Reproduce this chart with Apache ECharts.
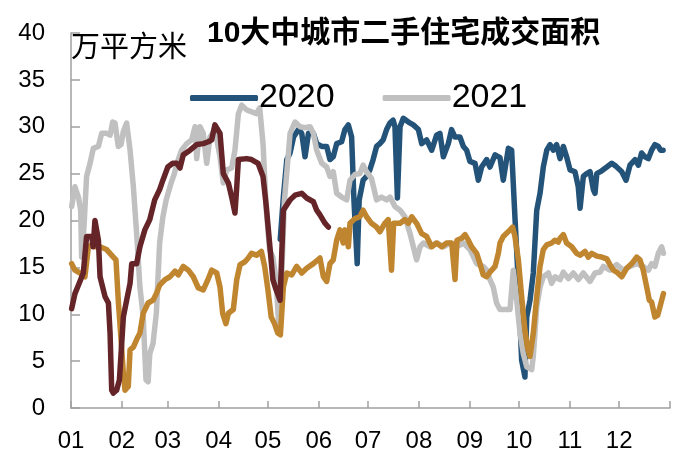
<!DOCTYPE html>
<html>
<head>
<meta charset="utf-8">
<script src="https://cdn.jsdelivr.net/npm/echarts@6/dist/echarts.min.js"></script>
<style>
html, body { margin: 0; padding: 0; background: #fff; }
#chart { width: 687px; height: 465px; }
</style>
</head>
<body>
<div id="chart"></div>
<script>
// x = day of year, y = 万平方米
var monthStarts = [0, 31, 59, 90, 120, 151, 181, 212, 243, 273, 304, 334, 365];
var monthLabels = ['01', '02', '03', '04', '05', '06', '07', '08', '09', '10', '11', '12'];

var data2019 = [[0.4,15.4],[2.4,14.7],[5.5,14.4],[8.5,14.0],[10.6,17.2],[12.6,17.4],[14.6,17.2],[17.7,17.2],[21.7,16.9],[25.8,16.1],[27.4,15.8],[28.8,11.5],[30.5,7.3],[31.9,3.7],[32.9,1.9],[34.9,2.3],[36,6.2],[38,6.5],[40,7.3],[42,8.0],[44,10.1],[47,11.2],[50,11.5],[52,12.2],[54,13.1],[57.3,13.7],[60.3,14.0],[63.4,14.6],[65.4,14.2],[68.4,15.1],[71.5,14.7],[74.5,14.0],[77.6,12.8],[80.6,12.6],[83.7,13.8],[85.7,14.7],[88.8,14.4],[90.8,12.9],[92.4,10.1],[94.4,9.0],[95.9,10.1],[98.9,10.5],[101,13.7],[103,15.3],[106,15.6],[108,16.0],[110,16.5],[113,16.3],[116,16.7],[118,15.1],[120,12.6],[122,9.7],[124,9.0],[126,8.0],[127.6,7.8],[129.4,12.9],[131.5,14.4],[134.5,14.2],[137.5,15.1],[140.6,14.4],[143.6,14.9],[147.7,15.4],[151.7,16.0],[153.8,14.0],[155.8,13.5],[157.8,15.4],[159.8,15.8],[161.9,17.9],[163.9,19.0],[165.9,17.6],[167,19.0],[169,17.2],[170,19.7],[173,20.2],[176,20.4],[178,21.1],[180.1,20.4],[183.1,19.7],[186.2,19.3],[188.2,18.8],[191.2,19.7],[193.3,20.1],[195.3,14.7],[196.6,19.7],[200.5,19.7],[203.5,20.1],[205.6,19.7],[207.6,20.4],[210.6,19.7],[213.7,18.6],[216.7,18.3],[219.8,17.2],[222.8,17.6],[225.9,17.2],[228.9,17.6],[232,17.6],[234,13.7],[235.2,17.9],[238,18.1],[240.1,18.5],[242.1,17.9],[244.1,17.2],[247.2,16.5],[249.2,15.4],[251.2,14.2],[253.3,14.0],[255.3,14.5],[258.4,15.1],[260.4,16.5],[261.4,17.6],[263.4,18.3],[264.4,18.5],[267.5,19.0],[269.1,19.3],[270.5,18.3],[272.6,15.8],[274.6,11.9],[276.6,8.3],[278.1,6.5],[279.7,5.5],[280.7,5.5],[281.7,8.0],[283.8,11.9],[285.8,15.1],[287.8,16.9],[289.9,17.4],[292.9,17.6],[294.9,17.9],[296.9,17.7],[298,18.1],[300,18.5],[302,17.6],[305.1,17.2],[308.1,16.5],[310.2,16.3],[313.2,16.7],[315.2,16.1],[317.3,16.5],[320.4,16.2],[323.4,16.1],[326.5,15.9],[328.4,15.3],[330.5,14.7],[332.5,14.5],[335.6,14.0],[338.6,14.9],[341.7,15.4],[344.7,16.1],[346.7,15.8],[348.7,14.7],[350.8,12.9],[352.4,11.5],[353.8,11.3],[355.8,9.7],[357.5,9.9],[358.9,10.8],[359.9,10.6],[361,12.2]];

var data2020 = [[127.5,18.0],[129.4,22.5],[131.5,26.5],[133.5,27.2],[135.6,28.9],[138.6,29.7],[140.6,29.3],[142.6,26.8],[144.7,29.3],[147.7,29.3],[149.7,28.2],[152.8,27.9],[155.8,27.9],[157.8,26.5],[159.8,26.8],[161.9,28.2],[164.9,28.4],[166.9,29.7],[169,30.2],[171,28.9],[172.4,22.2],[174.4,15.4],[175.6,22.2],[178,24.3],[180.1,24.7],[182.1,25.4],[184.1,26.5],[186.2,27.9],[188.2,28.2],[190.2,28.6],[192.3,29.7],[194.3,30.4],[196.3,30.7],[197.4,30.0],[198.9,22.4],[200.5,30.0],[202.5,30.9],[205.6,30.5],[208.6,30.2],[211.7,29.7],[213.7,28.2],[216.7,28.6],[219.8,27.5],[222.8,29.1],[224.8,29.3],[226.9,26.8],[229.9,28.2],[231.9,29.7],[234,28.9],[237,28.9],[239.1,27.9],[241.1,27.5],[243.1,26.3],[246.2,26.1],[248.2,24.3],[250.2,25.7],[253.3,26.5],[255.3,25.7],[258.4,27.0],[261.4,26.7],[263.4,24.3],[266.5,27.7],[268.5,27.5],[270.5,20.4],[272.6,13.3],[274.6,5.1],[276.6,3.3],[277.7,9.7],[279.7,11.5],[281.7,14.4],[283.8,21.1],[285.8,22.9],[287.8,25.7],[289.9,27.5],[291.9,28.1],[293.9,27.5],[295.9,28.1],[298,26.6],[300,27.9],[302,26.8],[304.1,25.4],[307.1,25.2],[309.1,23.6],[310.2,21.3],[312.2,24.7],[314.2,25.0],[316.3,25.2],[318.3,23.3],[319.3,22.9],[320.4,25.0],[323.4,25.3],[326.5,25.7],[329.5,26.1],[332,25.8],[335.6,25.2],[338.2,24.3],[340.6,25.9],[343.7,26.5],[345.7,25.9],[347.7,27.2],[349.7,26.8],[351.8,26.6],[353.8,27.5],[355.8,28.1],[357.9,27.9],[359.2,27.5],[360.8,27.5]];

var data2021 = [[0.4,21.5],[2.4,23.6],[4.5,22.5],[5.9,21.1],[6.5,16.1],[7.9,19.3],[9.5,24.7],[11.6,26.1],[13.6,27.7],[16.7,27.9],[18.7,29.3],[21.7,29.3],[23.8,29.1],[25.4,30.5],[26.8,30.4],[28.8,27.9],[30.5,28.1],[31.9,29.5],[33.9,30.4],[36,27.5],[38,23.6],[40,18.6],[42,12.9],[44,9.7],[45.7,3.0],[47,2.8],[48,5.8],[50,6.9],[52,10.1],[54,17.6],[56,20.4],[58,22.2],[61,24.0],[63,25.0],[64.4,26.0],[67.4,27.5],[70.5,28.2],[73.5,28.6],[75.6,30.0],[76.6,26.6],[78.6,30.0],[80.6,29.3],[82.7,26.1],[84.7,28.9],[87.7,29.7],[90.8,26.8],[92.8,24.0],[94.8,25.4],[97.9,25.6],[99.9,27.5],[102,31.4],[104,32.3],[107,31.8],[110,31.6],[113,31.4],[115,32.0],[117,28.2],[119,21.1],[121,16.9],[123,16.1],[125,13.7],[126.5,9.0],[128,12.0],[130,22.0],[133.5,29.3],[136.5,30.5],[139.6,30.0],[142.6,29.9],[145.7,30.0],[147.7,29.3],[149.7,27.5],[152.8,26.1],[155.8,25.7],[157.8,24.7],[159.8,25.2],[161.9,22.9],[164.9,22.5],[168,22.2],[170,24.3],[173,24.9],[176,25.0],[178,25.9],[180.1,25.2],[183.1,24.5],[186.2,22.2],[189.2,22.5],[192.3,22.2],[194.4,22.5],[197.4,21.5],[200.5,21.1],[203.5,20.4],[206.6,18.6],[208.6,17.2],[210.6,15.8],[212.7,17.2],[214.7,17.6],[218.8,17.2],[222.8,17.6],[226.9,17.2],[230.9,17.6],[235,17.2],[239.1,17.6],[243.1,16.9],[247.2,15.4],[251.2,15.1],[253.3,14.7],[255.3,13.7],[257.3,12.9],[259.3,11.2],[261.4,10.5],[267.5,10.5],[269.5,14.7],[271.6,11.5],[273.6,8.0],[275.6,5.8],[277.7,4.4],[280.7,4.1],[281.7,5.5],[283.8,10.8],[285.8,12.9],[287.8,14.0],[290.9,14.4],[292.9,13.3],[294.9,14.0],[298,13.7],[300,14.5],[303.1,13.8],[306.1,14.4],[309.2,13.7],[312.2,14.4],[316.3,13.5],[319.3,14.4],[322.4,14.5],[324.4,15.1],[328.4,14.7],[332.5,15.3],[336.5,14.7],[340.6,15.1],[344.7,15.4],[348.7,15.1],[351.8,14.7],[353.8,15.4],[355.8,15.1],[357.9,16.5],[359.9,17.2],[361,16.5]];

var data2022 = [[0.4,10.6],[2.4,12.2],[4.5,13.1],[7.5,14.4],[9.5,18.3],[12.6,18.3],[13.5,17.2],[14.6,20.0],[16.7,17.9],[17.7,14.0],[20.7,11.9],[22.8,11.2],[23.8,8.0],[24.8,1.9],[25.8,1.6],[27.8,1.9],[29.5,3.0],[30.9,6.9],[31.9,9.7],[33.9,11.5],[36,13.3],[37,15.4],[40,15.4],[42,17.2],[45,19.0],[48,20.1],[51,22.2],[54,23.3],[56,24.3],[59,25.7],[62,26.1],[64.4,26.1],[66.4,25.6],[68.4,27.0],[72.5,27.5],[76.6,28.1],[80.6,28.2],[83.7,28.4],[85.7,28.6],[87.7,30.2],[90.8,29.3],[92.8,25.0],[95.9,24.0],[97.9,22.5],[99.9,20.8],[101,23.6],[102,26.5],[107,26.6],[110,26.5],[114,26.1],[117,24.7],[119,21.5],[121,17.6],[123,13.7],[125,12.6],[127.4,11.5],[129.4,21.1],[133.5,22.2],[136.5,22.7],[140.6,22.9],[143.6,22.4],[147.7,22.0],[149.7,21.1],[151.7,20.6],[154.8,19.7],[156.8,19.3]];

var latin = '"Liberation Sans", Arial, sans-serif';
var cjk = '"Liberation Sans", "Noto Sans CJK SC", sans-serif';

function mk_series(name, data, color){
    return {
        name: name,
        type: 'line',
        data: data,
        symbol: 'none',
        lineStyle: { color: color, width: 5.5, cap: 'round', join: 'round' },
        itemStyle: { color: color },
        animation: false
    };
}

var myChart = echarts.init(document.getElementById('chart'));
var option = {
    backgroundColor: '#fff',
    animation: false,
    title: [{
        text: '10大中城市二手住宅成交面积',
        left: 202,
        top: 14,
        textStyle: { fontFamily: cjk, fontSize: 30, fontWeight: 'bold', color: '#000' }
    }, {
        text: '万平方米',
        left: 66,
        top: 29,
        textStyle: { fontFamily: cjk, fontSize: 29, fontWeight: 'normal', color: '#000' }
    }],
    legend: {
        data: ['2020', '2021'],
        left: 185,
        top: 76,
        icon: 'roundRect',
        itemWidth: 68,
        itemHeight: 6,
        itemGap: 48,
        textStyle: { fontFamily: latin, fontSize: 34, color: '#000', padding: [0, 0, 0, -4] }
    },
    grid: { left: 71, right: 17, top: 33, bottom: 57 },
    xAxis: {
        type: 'value',
        min: 0,
        max: 365,
        axisLine: { lineStyle: { color: '#a0a0a0', width: 1.5 } },
        axisTick: { inside: true, length: 7, customValues: monthStarts, lineStyle: { color: '#a0a0a0', width: 1.5 } },
        axisLabel: {
            customValues: monthStarts.slice(0, 12),
            formatter: function (value) {
                var i = monthStarts.indexOf(value);
                return i >= 0 ? monthLabels[i] : '';
            },
            margin: 21,
            fontFamily: latin,
            fontSize: 24,
            color: '#000'
        },
        splitLine: { show: false }
    },
    yAxis: {
        type: 'value',
        min: 0,
        max: 40,
        interval: 5,
        axisLine: { show: true, lineStyle: { color: '#a0a0a0', width: 1.5 } },
        axisTick: { show: true, inside: true, length: 9, lineStyle: { color: '#a0a0a0', width: 1.5 } },
        axisLabel: { margin: 26, fontFamily: latin, fontSize: 24, color: '#000' },
        splitLine: { show: false }
    },
    series: [
        mk_series('2020', data2020, '#245379'),
        mk_series('2021', data2021, '#c0c0c0'),
        mk_series('2019', data2019, '#c0852f'),
        mk_series('2022', data2022, '#642428')
    ]
};
myChart.setOption(option);
</script>
</body>
</html>
